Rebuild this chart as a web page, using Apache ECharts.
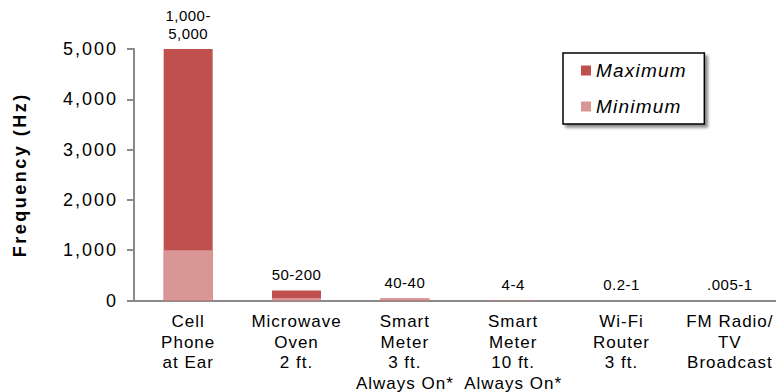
<!DOCTYPE html>
<html>
<head>
<meta charset="utf-8">
<script src="https://cdn.jsdelivr.net/npm/echarts@6/dist/echarts.min.js"></script>
<style>
  html, body { margin: 0; padding: 0; background: #fff; }
  #chart { width: 776px; height: 392px; }
  /* loosen the tracking of the drawn text */
  #chart text { letter-spacing: 1px; }
  #chart text[style*="15px"] { letter-spacing: 0.5px; }
  #chart text[style*="18px"] { letter-spacing: 2px; }
  #chart text[style*="italic"] { letter-spacing: 1.2px; }
  #chart text[style*="bold"] { letter-spacing: 2.5px; }
</style>
</head>
<body>
<div id="chart"></div>
<script>
// Exposure sources along the category axis
const categories = [
  'Cell\nPhone\nat Ear',
  'Microwave\nOven\n2 ft.',
  'Smart\nMeter\n3 ft.\nAlways On*',
  'Smart\nMeter\n10 ft.\nAlways On*',
  'Wi-Fi\nRouter\n3 ft.',
  'FM Radio/\nTV\nBroadcast'
];
// Frequency range per source (Hz)
const maximumHz = [5000, 200, 40, 4, 1, 1];
const minimumHz = [1000, 50, 40, 4, 0.2, 0.005];
// Range text printed above each bar
const rangeLabels = ['1,000-\n5,000', '50-200', '40-40', '4-4', '0.2-1', '.005-1'];

const yMin = 0, yMax = 5000, yStep = 1000;

const FONT = '"Liberation Sans", Arial, sans-serif';
const chart = echarts.init(document.getElementById('chart'), null, { renderer: 'svg' });

chart.setOption({
  animation: false,
  backgroundColor: '#ffffff',
  textStyle: { fontFamily: FONT, color: '#000' },
  grid: {
    left: 134, top: 49, width: 650, bottom: 91.5,
    containLabel: false,
    outerBoundsMode: 'none'
  },
  legend: {
    orient: 'vertical',
    left: 563,
    top: 53,
    data: ['Maximum', 'Minimum'],
    icon: 'rect',
    itemWidth: 10,
    itemHeight: 10,
    itemGap: 17,
    padding: [8, 26, 8, 18],
    backgroundColor: '#ffffff',
    borderColor: '#000000',
    borderWidth: 1.5,
    borderRadius: 0,
    shadowColor: 'rgba(0,0,0,0.45)',
    shadowBlur: 3,
    shadowOffsetX: 3,
    shadowOffsetY: 3,
    textStyle: { fontFamily: FONT, fontSize: 19, fontStyle: 'italic', color: '#000' }
  },
  xAxis: {
    type: 'category',
    data: categories,
    axisLine: { lineStyle: { color: '#8a8a8a', width: 2 } },
    axisTick: { show: false },
    axisLabel: {
      interval: 0,
      margin: 11,
      fontSize: 17,
      lineHeight: 20.5,
      color: '#000',
      fontFamily: FONT
    }
  },
  yAxis: {
    type: 'value',
    min: yMin,
    max: yMax,
    interval: yStep,
    name: 'Frequency (Hz)',
    nameLocation: 'middle',
    nameRotate: 90,
    nameGap: 105,
    nameTextStyle: { fontFamily: FONT, fontSize: 18, fontWeight: 'bold', color: '#000' },
    splitLine: { show: false },
    axisLine: { show: true, lineStyle: { color: '#8a8a8a', width: 2 } },
    axisTick: { show: true, length: 7, lineStyle: { color: '#8a8a8a', width: 2 } },
    axisLabel: {
      margin: 16,
      fontSize: 18,
      color: '#000',
      fontFamily: FONT,
      formatter: v => v.toLocaleString('en-US')
    }
  },
  series: [
    {
      name: 'Maximum',
      type: 'bar',
      data: maximumHz,
      barWidth: 49,
      barGap: '-100%',
      itemStyle: { color: '#c0504d' },
      label: {
        show: true,
        position: 'top',
        distance: 7,
        fontSize: 15,
        lineHeight: 18,
        color: '#000',
        fontFamily: FONT,
        formatter: p => rangeLabels[p.dataIndex]
      },
      z: 2
    },
    {
      name: 'Minimum',
      type: 'bar',
      data: minimumHz,
      barWidth: 49,
      barGap: '-100%',
      itemStyle: { color: '#d99694' },
      z: 3
    }
  ]
});
</script>
</body>
</html>
